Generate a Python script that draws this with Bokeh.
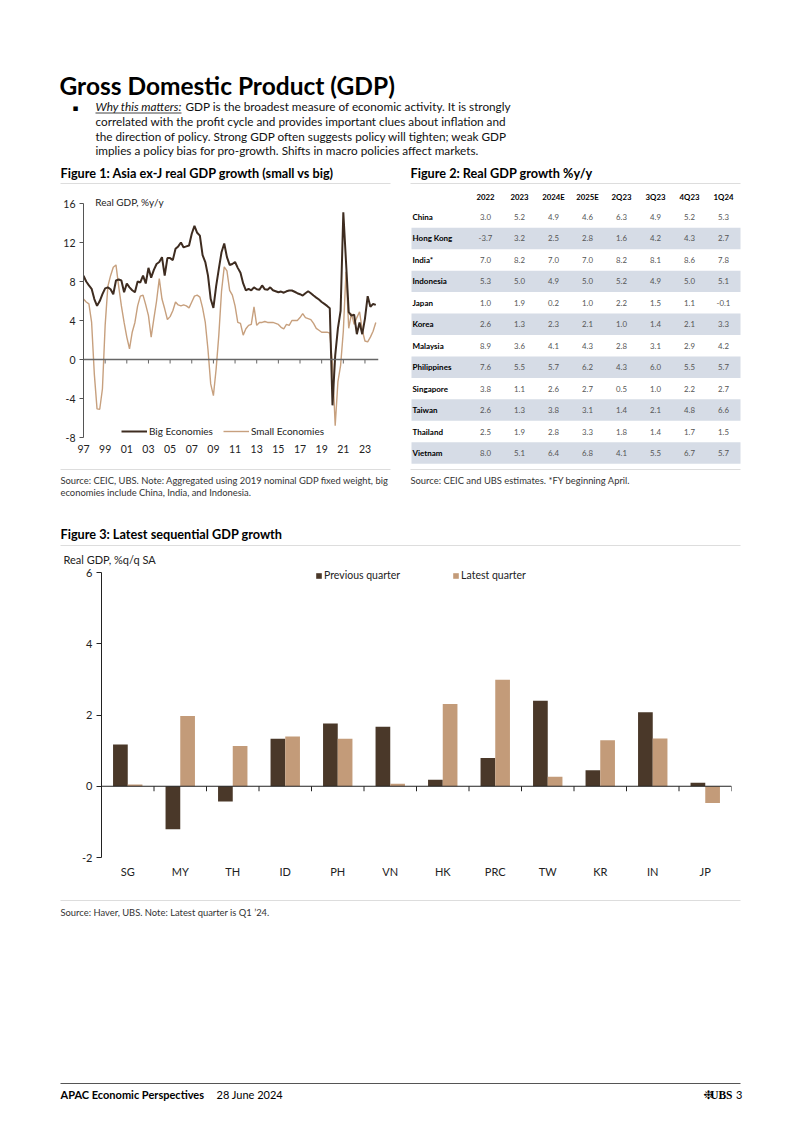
from bokeh.plotting import figure
from bokeh.models import (Range1d, LinearAxis, FixedTicker, Label, Legend, LegendItem,
                          ColumnDataSource, Span)
from bokeh.transform import dodge
from bokeh.layouts import column, row
from bokeh.embed import file_html
from bokeh.resources import INLINE
from bokeh.core.properties import value

FONT = "Lato"

# ---------------- Figure 1 data (quarterly, 1997Q1 .. 2024Q1) ----------------
first_year = 1997
big_economies = [
    8.6, 8.0, 7.6, 7.25,
    6.2, 5.5, 6.0, 6.7,
    7.3, 7.4, 7.2, 6.7,
    8.1, 8.2, 8.1, 6.9,
    7.8, 7.4, 7.1, 6.9,
    8.0, 7.9, 8.6, 7.8,
    9.4, 8.4, 9.2, 9.8,
    10.0, 10.5, 8.6, 10.4,
    10.4, 10.2, 11.35, 11.6,
    12.0, 11.5, 11.6, 11.7,
    12.9, 13.7, 13.0, 12.7,
    10.7, 10.0, 8.6, 6.2,
    5.3, 7.5, 9.3, 11.0,
    11.9, 10.5, 9.7, 9.8,
    10.0, 9.4, 8.9, 7.8,
    7.1, 7.25, 7.1, 7.4,
    7.2, 7.15, 7.6, 7.2,
    7.15, 7.4, 7.1, 7.0,
    6.9, 6.97, 6.85, 7.0,
    7.08, 7.08, 6.95, 6.8,
    6.7, 6.56, 6.8, 7.0,
    6.8, 6.56, 6.35, 6.15,
    5.9, 5.7, 5.5, 5.26,
    -4.7, 0.4, 3.2, 5.0,
    15.1, 10.0, 4.85, 4.5,
    4.6, 2.6, 3.8, 2.6,
    4.2, 6.5, 5.4, 5.7,
    5.6,
]
small_economies = [
    6.2, 5.9, 5.7, 3.8,
    -1.5, -5.06, -5.1, -3.0,
    3.5, 7.5, 8.6, 9.47,
    9.7, 7.5, 5.5, 3.8,
    2.3, 1.1, 2.8, 3.8,
    5.5, 6.5, 6.6, 5.6,
    4.5, 2.3, 4.2, 6.0,
    8.3, 6.2, 5.2, 4.1,
    4.4, 5.0, 5.9, 5.6,
    5.5, 5.6, 5.5, 5.3,
    5.9, 6.5, 6.6, 6.4,
    5.3, 3.8, 1.0, -2.5,
    -3.7, -1.0, 2.5, 7.0,
    9.5, 9.1, 7.1, 6.6,
    5.5, 3.8, 3.7, 2.5,
    3.15, 3.5, 3.6, 5.4,
    3.5, 3.8, 3.8, 3.9,
    3.8, 3.8, 3.8, 3.7,
    3.6, 3.3, 3.15, 3.6,
    3.5, 4.0, 4.0, 4.0,
    4.3, 4.7, 4.3, 4.2,
    4.1, 3.7, 3.2, 3.0,
    2.8, 2.8, 2.8, 2.7,
    -0.5, -6.8, -2.3, -0.6,
    2.9, 9.0, 3.2, 4.7,
    3.6, 4.3, 4.9, 3.0,
    1.9, 1.8, 2.3, 2.9,
    3.8,
]
fig1_tick_years = [1997, 1999, 2001, 2003, 2005, 2007, 2009, 2011, 2013, 2015, 2017, 2019, 2021, 2023]
fig1_tick_labels = ["97", "99", "01", "03", "05", "07", "09", "11", "13", "15", "17", "19", "21", "23"]
fig1_y_ticks = [-8, -4, 0, 4, 8, 12, 16]

# ---------------- Figure 2 data (table) ----------------
table_headers = ["2022", "2023", "2024E", "2025E", "2Q23", "3Q23", "4Q23", "1Q24"]
table_countries = ["China", "Hong Kong", "India*", "Indonesia", "Japan", "Korea", "Malaysia",
                   "Philippines", "Singapore", "Taiwan", "Thailand", "Vietnam"]
col_2022 = [3.0, -3.7, 7.0, 5.3, 1.0, 2.6, 8.9, 7.6, 3.8, 2.6, 2.5, 8.0]
col_2023 = [5.2, 3.2, 8.2, 5.0, 1.9, 1.3, 3.6, 5.5, 1.1, 1.3, 1.9, 5.1]
col_2024e = [4.9, 2.5, 7.0, 4.9, 0.2, 2.3, 4.1, 5.7, 2.6, 3.8, 2.8, 6.4]
col_2025e = [4.6, 2.8, 7.0, 5.0, 1.0, 2.1, 4.3, 6.2, 2.7, 3.1, 3.3, 6.8]
col_2q23 = [6.3, 1.6, 8.2, 5.2, 2.2, 1.0, 2.8, 4.3, 0.5, 1.4, 1.8, 4.1]
col_3q23 = [4.9, 4.2, 8.1, 4.9, 1.5, 1.4, 3.1, 6.0, 1.0, 2.1, 1.4, 5.5]
col_4q23 = [5.2, 4.3, 8.6, 5.0, 1.1, 2.1, 2.9, 5.5, 2.2, 4.8, 1.7, 6.7]
col_1q24 = [5.3, 2.7, 7.8, 5.1, -0.1, 3.3, 4.2, 5.7, 2.7, 6.6, 1.5, 5.7]
table_columns = [col_2022, col_2023, col_2024e, col_2025e, col_2q23, col_3q23, col_4q23, col_1q24]

# ---------------- Figure 3 data ----------------
bar_categories = ["SG", "MY", "TH", "ID", "PH", "VN", "HK", "PRC", "TW", "KR", "IN", "JP"]
previous_quarter = [1.17, -1.21, -0.43, 1.33, 1.76, 1.67, 0.18, 0.79, 2.40, 0.45, 2.08, 0.10]
latest_quarter = [0.05, 1.97, 1.13, 1.40, 1.33, 0.07, 2.31, 2.99, 0.27, 1.29, 1.34, -0.47]
fig3_y_ticks = [-2, 0, 2, 4, 6]

# ---------------- styling ----------------
DARK = "#3e2c20"
TAN = "#c7a07e"
BAR_DARK = "#4a3829"
BAR_TAN = "#c39b79"
BAND = "#d6dce6"
RULE = "#dddddd"
NOTE = 9.4
BODY = 11.75
W = 802


def base_fig(**kw):
    p = figure(output_backend="svg", toolbar_location=None, x_axis_type=None, y_axis_type=None,
               frame_align=False, **kw)
    p.outline_line_color = None
    return p


def canvas(x0, x1, y0, y1):
    return base_fig(width=x1 - x0, height=y1 - y0, x_range=Range1d(x0, x1),
                    y_range=Range1d(y1, y0), min_border=0)


def txt(p, x, y, s, size, color="#000000", style="normal", align="left", font=FONT):
    p.text(x=[x], y=[y], text=[s], text_font=value(font), text_font_size=f"{size}px",
           text_color=color, text_align=align, text_baseline="middle", text_font_style=style)


def hline(p, x0, x1, y, color=RULE, width=1):
    p.line([x0, x1], [y, y], line_color=color, line_width=width)


# ---------------- header ----------------
head = canvas(0, W, 0, 190)
txt(head, 59, 85, "Gross Domestic Product (GDP)", 24.5, style="bold")
txt(head, 72, 107, "\u25aa", 9, font="DejaVu Sans")
txt(head, 95, 106, "Why this matters:", BODY, color="#111111", style="italic")
hline(head, 95, 181, 112.5, color="#111111", width=0.8)
txt(head, 185, 106, "GDP is the broadest measure of economic activity. It is strongly", BODY, color="#111111")
txt(head, 95, 121, "correlated with the profit cycle and provides important clues about inflation and", BODY, color="#111111")
txt(head, 95, 136, "the direction of policy. Strong GDP often suggests policy will tighten; weak GDP", BODY, color="#111111")
txt(head, 95, 150, "implies a policy bias for pro-growth. Shifts in macro policies affect markets.", BODY, color="#111111")
txt(head, 60, 172, "Figure 1: Asia ex-J real GDP growth (small vs big)", 12.7, style="bold")
txt(head, 410, 172, "Figure 2: Real GDP growth %y/y", 12.7, style="bold")
hline(head, 60, 390, 183)
hline(head, 410, 740, 183)

# ---------------- Figure 1 ----------------
quarters = [first_year + i / 4 for i in range(len(big_economies))]
y1_top = 16.72
p1 = base_fig(width=400, height=275, x_range=Range1d(1997, 2024.25), y_range=Range1d(-8, y1_top),
              min_border_left=83, min_border_right=22, min_border_top=6, min_border_bottom=28)

yax = LinearAxis(ticker=FixedTicker(ticks=fig1_y_ticks), bounds=(min(fig1_y_ticks), max(fig1_y_ticks)),
                 major_label_overrides={t: str(t) for t in fig1_y_ticks},
                 major_tick_out=4, major_tick_in=0,
                 minor_tick_out=0, minor_tick_in=0, axis_line_color="#555555",
                 major_tick_line_color="#555555", major_label_standoff=4,
                 major_label_text_font=FONT, major_label_text_font_size="10.5px",
                 major_label_text_color="#222222")
p1.add_layout(yax, "left")
xax = LinearAxis(ticker=FixedTicker(ticks=fig1_tick_years),
                 major_label_overrides=dict(zip(fig1_tick_years, fig1_tick_labels)),
                 axis_line_color=None, major_tick_line_color=None, major_tick_out=0, major_tick_in=0,
                 minor_tick_out=0, minor_tick_in=0, major_label_standoff=7,
                 major_label_text_font=FONT, major_label_text_font_size="10.5px",
                 major_label_text_color="#222222")
p1.add_layout(xax, "below")
# zero line with downward tick marks
p1.add_layout(Span(location=0, dimension="width", line_color="#666666", line_width=1.5))
tick1 = 4 / 9.75
p1.segment(x0=fig1_tick_years, y0=[0] * len(fig1_tick_years), x1=fig1_tick_years,
           y1=[-tick1] * len(fig1_tick_years), line_color="#666666", line_width=1)

r_small = p1.line(quarters, small_economies, line_color=TAN, line_width=1.4)
r_big = p1.line(quarters, big_economies, line_color=DARK, line_width=2)
leg1 = Legend(items=[LegendItem(label="Big Economies", renderers=[r_big]),
                     LegendItem(label="Small Economies", renderers=[r_small])],
              location=(38, 0), orientation="horizontal", glyph_width=26, glyph_height=12,
              label_height=12, label_standoff=2, spacing=10, padding=0, margin=0,
              border_line_color=None, background_fill_alpha=0,
              label_text_font=FONT, label_text_font_size="10px", label_text_color="#222222")
p1.add_layout(leg1)
p1.add_layout(Label(x=1998.08, y=16.15, text="Real GDP, %y/y", text_font=FONT,
                    text_font_size="10px", text_baseline="middle", text_color="#222222"))

# ---------------- Figure 2 (table) ----------------
tbl = canvas(400, W, 190, 465)
row_y0 = 216.5
row_h = 21.45
col_x0 = 485
col_w = 34.0
for r, country in enumerate(table_countries):
    yy = row_y0 + r * row_h
    if r % 2 == 1:
        tbl.quad(left=[411], right=[740], top=[yy - row_h / 2], bottom=[yy + row_h / 2],
                 fill_color=BAND, line_color=None)
for c, h in enumerate(table_headers):
    txt(tbl, col_x0 + c * col_w, 196, h, 7.8, style="bold", align="center")
for r, country in enumerate(table_countries):
    yy = row_y0 + r * row_h
    txt(tbl, 412, yy, country, 8, style="bold")
    for c, colvals in enumerate(table_columns):
        txt(tbl, col_x0 + c * col_w, yy, f"{colvals[r]:.1f}", 7.8, color="#555555", align="center")

# ---------------- middle notes ----------------
mid = canvas(0, W, 465, 566)
hline(mid, 60, 390, 469)
hline(mid, 410, 740, 469)
txt(mid, 60, 480, "Source: CEIC, UBS. Note: Aggregated using 2019 nominal GDP fixed weight, big", NOTE, color="#333333")
txt(mid, 60, 492, "economies include China, India, and Indonesia.", NOTE, color="#333333")
txt(mid, 410, 480, "Source: CEIC and UBS estimates.  *FY beginning April.", NOTE, color="#333333")
txt(mid, 60, 533, "Figure 3: Latest sequential GDP growth", 12.7, style="bold")
hline(mid, 60, 740, 545)
txt(mid, 63, 559, "Real GDP, %q/q SA", 11, color="#222222")

# ---------------- Figure 3 ----------------
idx = list(range(len(bar_categories)))
src3 = ColumnDataSource(dict(x=idx, prev=previous_quarter, latest=latest_quarter))
y3_top = 6 + 6 / 35.625
p3 = base_fig(width=W, height=324, x_range=Range1d(-0.5, len(idx) - 0.5), y_range=Range1d(-2, y3_top),
              min_border_left=101, min_border_right=71, min_border_top=0, min_border_bottom=33)
y3 = LinearAxis(ticker=FixedTicker(ticks=fig3_y_ticks), bounds=(min(fig3_y_ticks), max(fig3_y_ticks)),
                major_label_overrides={t: str(t) for t in fig3_y_ticks},
                major_tick_out=5, major_tick_in=0,
                minor_tick_out=0, minor_tick_in=0, axis_line_color="#222222",
                major_tick_line_color="#222222", major_label_standoff=4,
                major_label_text_font=FONT, major_label_text_font_size="11px",
                major_label_text_color="#222222")
p3.add_layout(y3, "left")
x3 = LinearAxis(ticker=FixedTicker(ticks=idx),
                major_label_overrides=dict(zip(idx, bar_categories)),
                axis_line_color=None, major_tick_line_color=None, major_tick_out=0, major_tick_in=0,
                minor_tick_out=0, minor_tick_in=0, major_label_standoff=7,
                major_label_text_font=FONT, major_label_text_font_size="11px",
                major_label_text_color="#222222")
p3.add_layout(x3, "below")
rb1 = p3.vbar(x=dodge("x", -0.14, range=p3.x_range), top="prev", width=0.28, source=src3,
              fill_color=BAR_DARK, line_color=None)
rb2 = p3.vbar(x=dodge("x", 0.14, range=p3.x_range), top="latest", width=0.28, source=src3,
              fill_color=BAR_TAN, line_color=None)
p3.add_layout(Span(location=0, dimension="width", line_color="#222222", line_width=1))
bounds3 = [i + 0.5 for i in idx]
tick3 = 5 / 35.625
p3.segment(x0=bounds3, y0=[0] * len(bounds3), x1=bounds3, y1=[-tick3] * len(bounds3),
           line_color="#222222", line_width=1)
leg3 = Legend(items=[LegendItem(label="Previous quarter", renderers=[rb1]),
                     LegendItem(label="Latest quarter", renderers=[rb2])],
              location=(214, 276), orientation="horizontal", glyph_width=7, glyph_height=7,
              label_height=12, label_standoff=2, spacing=52, padding=0, margin=0,
              border_line_color=None, background_fill_alpha=0,
              label_text_font=FONT, label_text_font_size="10.5px", label_text_color="#222222")
p3.add_layout(leg3)

# ---------------- bottom ----------------
bot = canvas(0, W, 890, 1134)
hline(bot, 60, 740, 900)
txt(bot, 60, 912, "Source: Haver, UBS. Note: Latest quarter is Q1 \u201924.", NOTE, color="#333333")
hline(bot, 60, 740, 1083, color="#555555", width=1)
txt(bot, 60, 1094, "APAC Economic Perspectives", 11, style="bold")
txt(bot, 216, 1094, "28 June 2024", 11)
txt(bot, 742, 1094, "3", 11, align="right")
txt(bot, 732, 1094, "UBS", 11.5, style="bold", align="right", font="Liberation Serif")
txt(bot, 713, 1094, "\u2749", 12, align="right", font="DejaVu Sans")

layout = column(head, row(p1, tbl), mid, p3, bot)
open("out.html", "w").write(file_html(layout, INLINE))
